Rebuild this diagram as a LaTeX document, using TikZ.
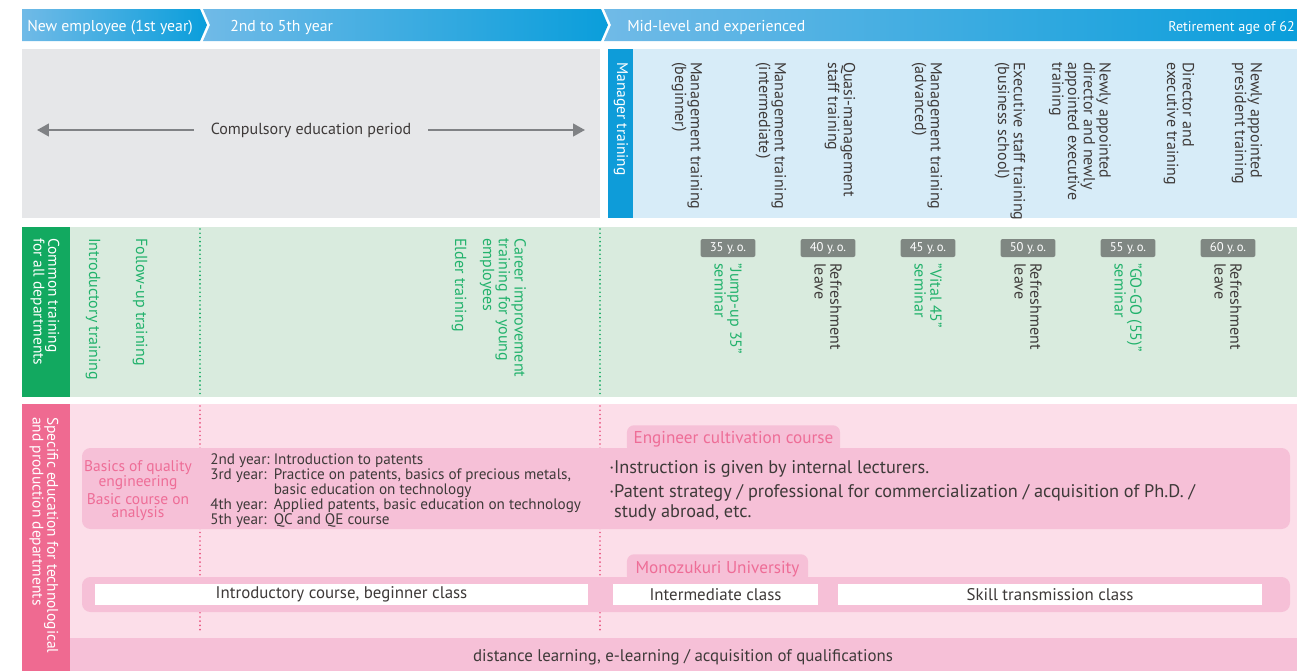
\documentclass[tikz,border=0pt]{standalone}
\usepackage{fontspec}
\setmainfont{PT Sans}
\usepackage{tikz}
\usetikzlibrary{arrows.meta,positioning}

\definecolor{headlight}{HTML}{70BAE7}
\definecolor{headdark}{HTML}{0A9EDB}
\definecolor{greypanel}{HTML}{E6E7E9}
\definecolor{arrowgrey}{HTML}{808285}
\definecolor{mgrblue}{HTML}{0E9CD9}
\definecolor{mgrpanel}{HTML}{D7ECF8}
\definecolor{comgreen}{HTML}{12A960}
\definecolor{greenpanel}{HTML}{D9EBDE}
\definecolor{greentext}{HTML}{22B26C}
\definecolor{badgegrey}{HTML}{7F8782}
\definecolor{spcpink}{HTML}{EF6A91}
\definecolor{pinkpanel}{HTML}{FCDEE9}
\definecolor{pinkbox}{HTML}{F6C0D7}
\definecolor{pinktext}{HTML}{EE6D97}
\definecolor{darktext}{HTML}{3E3A39}
\definecolor{dotpink}{HTML}{E8527E}

\begin{document}
\begin{tikzpicture}[
    x=0.025cm, y=-0.025cm,
    every node/.style={font=\fontsize{12}{13}\selectfont, text=darktext},
    headtxt/.style={anchor=west, inner sep=0pt, text=white, font=\fontsize{11.2}{12}\selectfont},
    vtext/.style={rotate=-90, anchor=west, align=left, inner sep=0pt, font=\fontsize{11.4}{11.2}\selectfont},
    gvtext/.style={vtext, text=greentext},
    labeltext/.style={vtext, text=white, font=\fontsize{11}{10.6}\selectfont},
    agebadge/.style={fill=badgegrey, rounded corners=1.5pt, text=white, minimum width=1.37cm, minimum height=0.45cm, inner sep=0pt, font=\fontsize{9}{9}\selectfont},
    tabbox/.style={fill=pinkbox, rounded corners=5pt, text=pinktext, anchor=north, minimum height=0.72cm, inner sep=0pt, font=\fontsize{12.2}{13}\selectfont},
    classbox/.style={fill=white, minimum height=0.525cm, inner sep=0pt},
    pinkhead/.style={align=center, text=pinktext, inner sep=0pt, font=\fontsize{11}{9.8}\selectfont},
    arr/.style={-{Triangle[length=8.5pt,width=9pt]}, line width=1.5pt, draw=arrowgrey},
    gdots/.style={draw=comgreen, line width=1.3pt, line cap=round, dash pattern=on 0pt off 3pt},
    pdots/.style={gdots, draw=dotpink}
]
    \useasboundingbox (0,0) rectangle (1297,671);

    % header bar
    \shade[left color=headlight, right color=headdark] (22,9) -- (200,9) -- (207,25) -- (200,41) -- (22,41) -- cycle;
    \shade[left color=headlight, right color=headdark] (203,9) -- (601,9) -- (608,25) -- (601,41) -- (203,41) -- (210,25) -- cycle;
    \shade[left color=headlight, right color=headdark] (604,9) -- (1297,9) -- (1297,41) -- (604,41) -- (611,25) -- cycle;
    \node[headtxt] (hnew) at (27,27.5) {New employee (1st year)};
    \node[headtxt] (hyears) at (230,27.5) {2nd to 5th year};
    \node[headtxt] (hexp) at (627,27.5) {Mid-level and experienced};
    \node[headtxt, anchor=east, font=\fontsize{10}{11}\selectfont] (hret) at (1295,28) {Retirement age of 62};

    % panels
    \fill[greypanel] (22,49) rectangle (600,218);
    \fill[mgrblue] (608,49) rectangle (633,218);
    \fill[mgrpanel] (633,49) rectangle (1297,218);
    \fill[comgreen] (22,227) rectangle (70,397);
    \fill[greenpanel] (70,227) rectangle (1297,397);
    \fill[spcpink] (22,404) rectangle (70,671);
    \fill[pinkpanel] (70,404) rectangle (1297,671);
    \draw[gdots] (200,229) -- (200,397);
    \draw[gdots] (600,229) -- (600,397);
    \draw[pdots] (200,406) -- (200,632);
    \draw[pdots] (600,406) -- (600,632);

    % compulsory period
    \node[inner xsep=12pt, font=\fontsize{11.4}{12}\selectfont] (cep) at (311,130) {Compulsory education period};
    \coordinate (cepL) at (37,130);
    \coordinate (cepR) at (585,130);
    \draw[arr] (cep) -- (cepL);
    \draw[arr] (cep) -- (cepR);

    % manager training
    \node[labeltext] (mgrlbl) at (621,62) {Manager training};
    \node[vtext] (mbeg) at (687,62) {Management training\\(beginner)};
    \node[vtext] (minter) at (771,62) {Management training\\(intermediate)};
    \node[vtext] (mquasi) at (840,62) {Quasi-management\\staff training};
    \node[vtext] (madv) at (927,62) {Management training\\(advanced)};
    \node[vtext] (mexec) at (1010,62) {Executive staff training\\(business school)};
    \node[vtext] (mdir) at (1080,62) {Newly appointed\\director and newly\\appointed executive\\training};
    \node[vtext] (mdirex) at (1179,62) {Director and\\executive training};
    \node[vtext] (mpres) at (1247,62) {Newly appointed\\president training};

    % common training
    \node[labeltext] (comlbl) at (45,238) {Common training\\for all departments};
    \node[gvtext] (intro) at (93,238) {Introductory training};
    \node[gvtext] (follow) at (140,238) {Follow-up training};
    \node[gvtext] (elder) at (459,238) {Elder training};
    \node[gvtext] (career) at (503,238) {Career improvement\\training for young\\employees};

    \node[agebadge] (b35) at (728,248) {35 y.\,o.};
    \node[agebadge] (b40) at (828,248) {40 y.\,o.};
    \node[agebadge] (b45) at (928,248) {45 y.\,o.};
    \node[agebadge] (b50) at (1028,248) {50 y.\,o.};
    \node[agebadge] (b55) at (1128,248) {55 y.\,o.};
    \node[agebadge] (b60) at (1228,248) {60 y.\,o.};
    \node[gvtext] (s35) at ([yshift=-4pt]b35.south) {"Jump-up 35"\\seminar};
    \node[vtext] (r40) at ([yshift=-4pt]b40.south) {Refreshment\\leave};
    \node[gvtext] (s45) at ([yshift=-4pt]b45.south) {"Vital 45"\\seminar};
    \node[vtext] (r50) at ([yshift=-4pt]b50.south) {Refreshment\\leave};
    \node[gvtext] (s55) at ([yshift=-4pt]b55.south) {"GO-GO (55)"\\seminar};
    \node[vtext] (r60) at ([yshift=-4pt]b60.south) {Refreshment\\leave};

    % specific education
    \node[labeltext] (spclbl) at (44,417) {Specific education for technological\\and production departments};
    \node[tabbox, minimum width=5.325cm] (ectab) at (733.5,425) {Engineer cultivation course};
    \node[tabbox, minimum width=4.525cm] (mztab) at (717.5,554) {Monozukuri University};
    \fill[pinkbox, rounded corners=6pt] (82,448) rectangle (1290,529);
    \fill[pinkbox, rounded corners=6pt] (82,577) rectangle (1290,612);
    \fill[pinkbox] (70,638) rectangle (1297,671);

    \node[pinkhead] (qeng) at (138,475) {Basics of quality\\engineering};
    \node[pinkhead] (anal) at (138,507) {Basic course on\\analysis};
    \node[anchor=north west, inner sep=0pt, font=\fontsize{10.8}{10.4}\selectfont] (years) at (210,453) {%
      \begin{tabular}{@{}l@{\ }l@{}}
        2nd year: & Introduction to patents\\
        3rd year: & Practice on patents, basics of precious metals,\\
                  & basic education on technology\\
        4th year: & Applied patents, basic education on technology\\
        5th year: & QC and QE course
      \end{tabular}};
    \node[anchor=north west, align=left, inner sep=0pt, font=\fontsize{13}{14.2}\selectfont] (ectxt) at (609,460)
      {·Instruction is given by internal lecturers.\\[2.8pt]·Patent strategy / professional for commercialization / acquisition of Ph.D. /\\\phantom{·}study abroad, etc.};

    \node[classbox, minimum width=12.325cm] (introcls) at (341.5,594.5) {Introductory course, beginner class};
    \node[classbox, minimum width=5.125cm] (intercls) at (715.5,594.5) {Intermediate class};
    \node[classbox, minimum width=10.6cm] (skillcls) at (1050,594.5) {Skill transmission class};
    \node (distance) at (683,657) {distance learning, e-learning / acquisition of qualifications};
\end{tikzpicture}
\end{document}
